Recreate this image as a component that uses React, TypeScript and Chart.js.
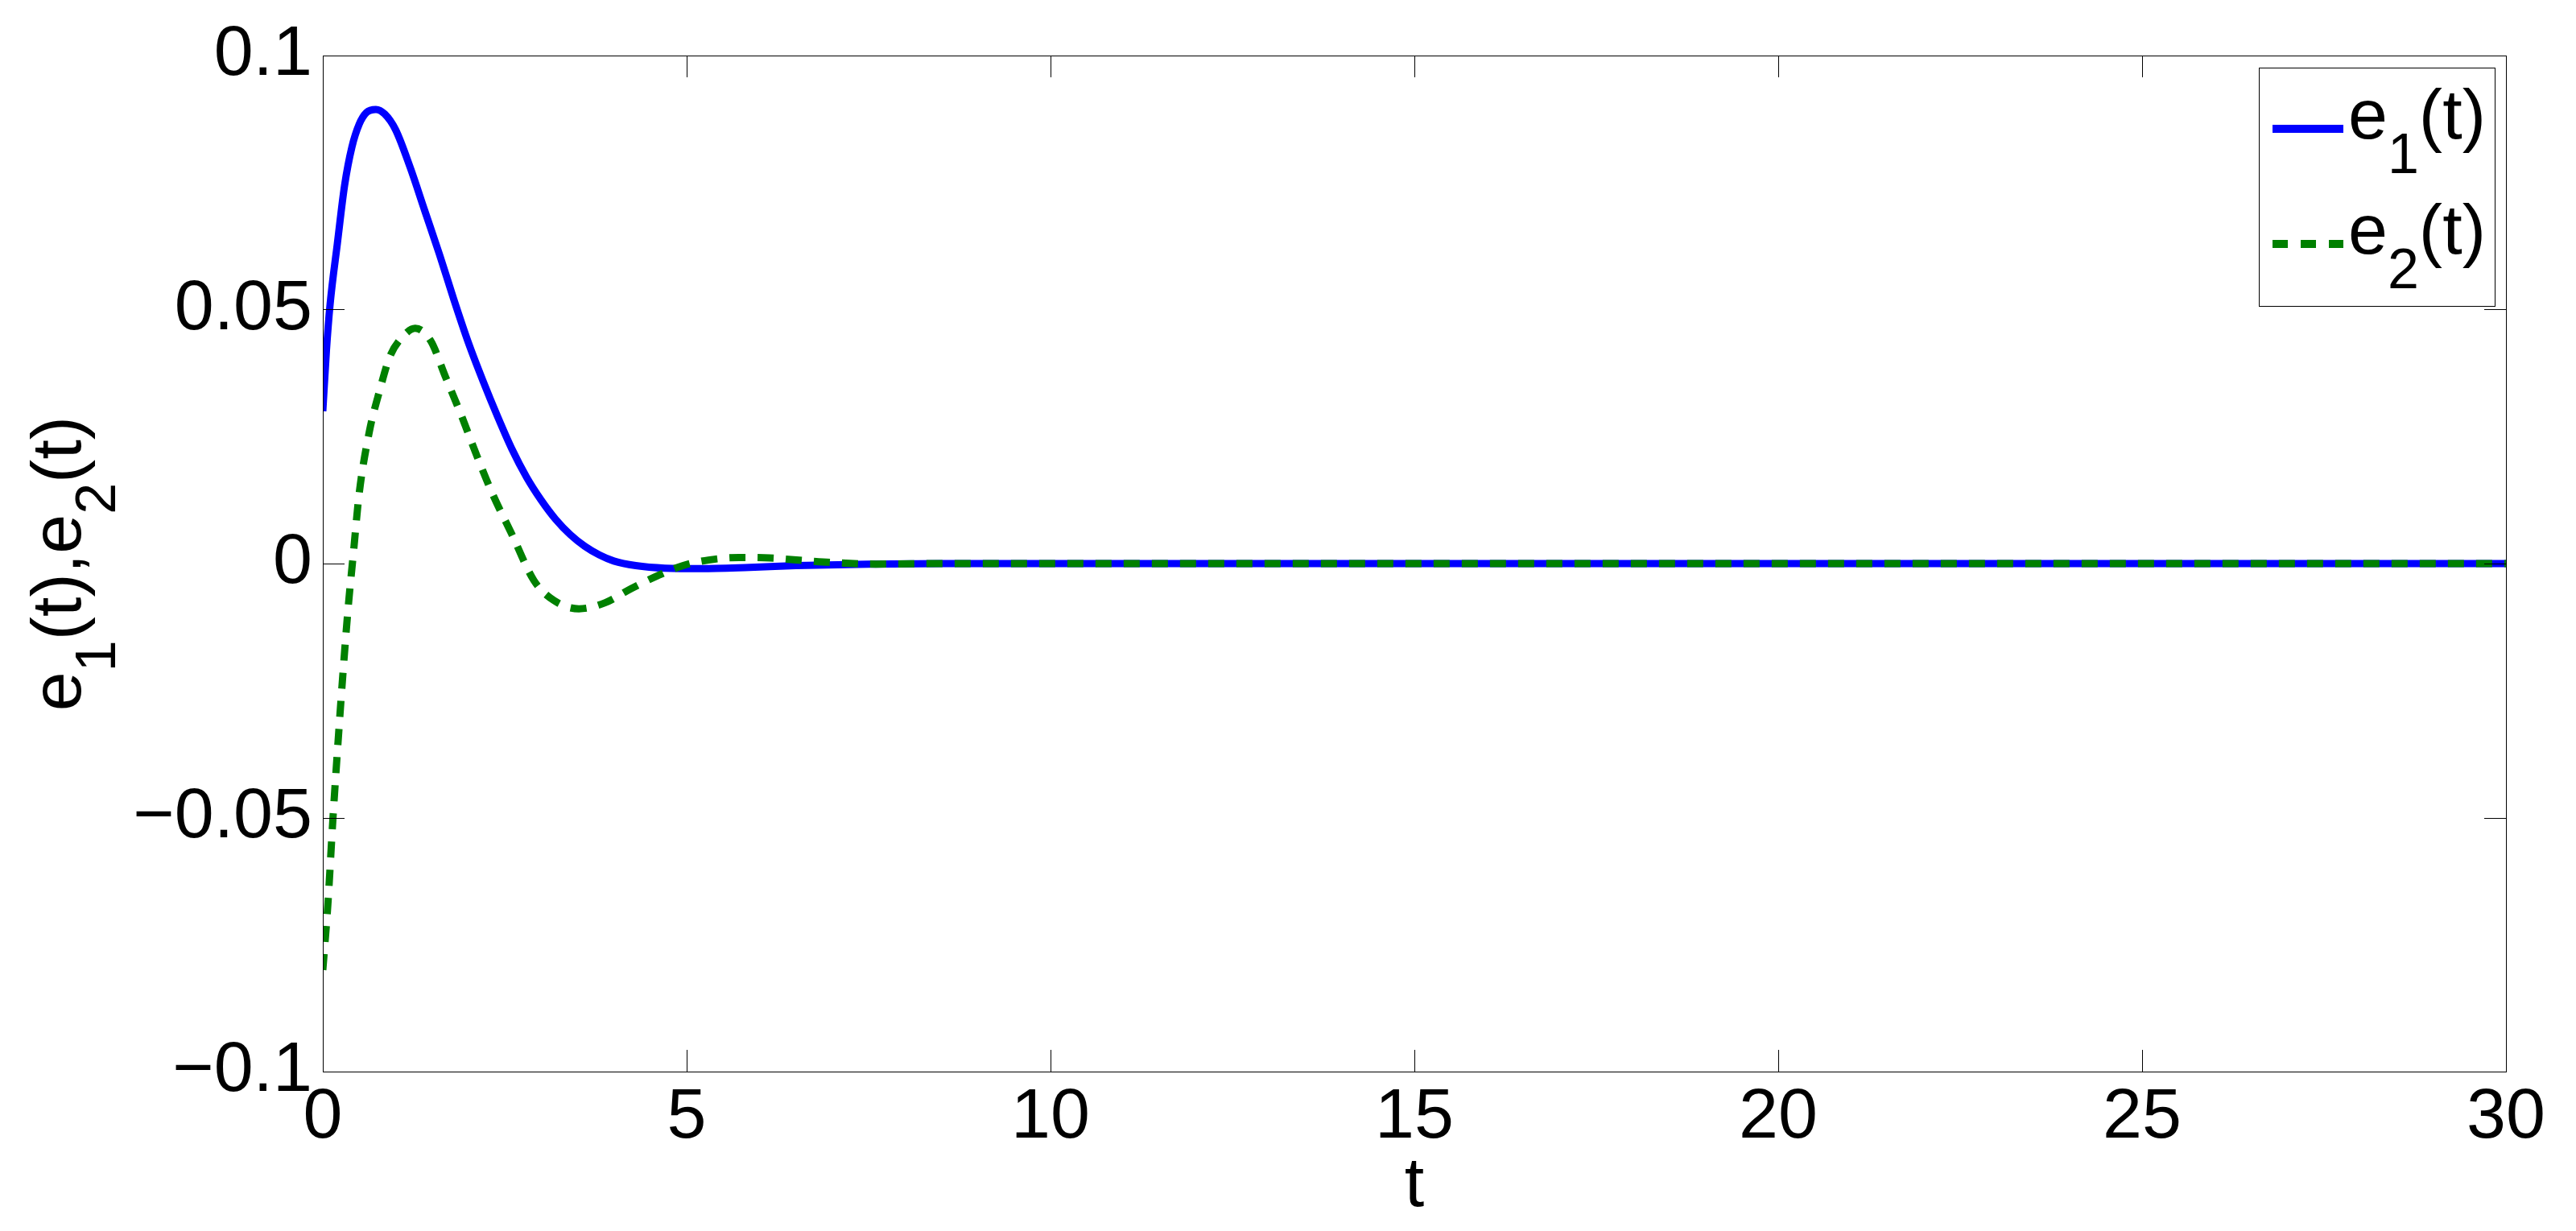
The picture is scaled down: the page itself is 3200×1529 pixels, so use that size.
import React, { useEffect, useRef } from "react";
import { Chart, registerables } from "chart.js";

Chart.register(...registerables);

// ---------- data ----------
const e1Time = [0, 0.05, 0.1, 0.2, 0.3, 0.4, 0.5, 0.6, 0.73, 0.85, 1.0, 1.2, 1.4, 1.6, 1.8, 2.0, 2.2, 2.4, 2.6, 2.8, 3.0, 3.2, 3.4, 3.6, 3.8, 4.0, 4.3, 4.7, 5.2, 5.8, 6.5, 7.5, 8.5, 10, 15, 20, 25, 30];
const e1Values = [0.030, 0.042, 0.051, 0.063, 0.0745, 0.082, 0.0865, 0.0888, 0.0894, 0.0885, 0.0854, 0.078, 0.0695, 0.061, 0.052, 0.0435, 0.036, 0.029, 0.0225, 0.017, 0.0125, 0.0087, 0.0057, 0.0034, 0.0017, 0.0005, -0.0004, -0.0009, -0.001, -0.0008, -0.0004, -0.0001, 0, 0, 0, 0, 0, 0];

const e2Time = [0, 0.07, 0.14, 0.21, 0.28, 0.35, 0.42, 0.5, 0.64, 0.78, 0.92, 1.1, 1.27, 1.48, 1.69, 1.9, 2.12, 2.33, 2.6, 2.9, 3.18, 3.52, 3.88, 4.24, 4.6, 4.95, 5.3, 5.72, 6.14, 6.6, 7.0, 7.6, 8.5, 10, 15, 20, 25, 30];
const e2Values = [-0.080, -0.067, -0.050, -0.035, -0.021, -0.0084, 0.002, 0.0138, 0.026, 0.034, 0.0407, 0.0447, 0.0463, 0.0439, 0.0366, 0.0293, 0.0211, 0.0138, 0.0057, -0.0033, -0.0073, -0.0089, -0.0077, -0.0049, -0.0024, -0.0004, 0.0007, 0.0012, 0.0011, 0.0006, 0.0002, -0.0001, 0, 0, 0, 0, 0, 0];

const seriesNames = ["e_1(t)", "e_2(t)"];
const seriesColors = ["#0000ff", "#008000"];

const xTickValues = [0, 5, 10, 15, 20, 25, 30];
const xTickLabels = ["0", "5", "10", "15", "20", "25", "30"];
const yTickValues = [-0.1, -0.05, 0, 0.05, 0.1];
const yTickLabels = ["\u22120.1", "\u22120.05", "0", "0.05", "0.1"];

const xTitle = "t";
const yTitle = "e_1(t),e_2(t)";

// ---------- helpers ----------
const FONT = "'Liberation Sans', Arial, Helvetica, sans-serif";
const MAIN_SIZE = 88;
const SUB_SIZE = 70;
const SUB_DROP = 43;

type Part = { text: string; sub: boolean };
function parseTex(s: string): Part[] {
  const parts: Part[] = [];
  let buf = "";
  for (let i = 0; i < s.length; i++) {
    if (s[i] === "_" && i + 1 < s.length) {
      if (buf) parts.push({ text: buf, sub: false });
      buf = "";
      parts.push({ text: s[i + 1], sub: true });
      i++;
    } else buf += s[i];
  }
  if (buf) parts.push({ text: buf, sub: false });
  return parts;
}
function measureTex(ctx: CanvasRenderingContext2D, parts: Part[]) {
  let w = 0;
  for (const p of parts) {
    ctx.font = `${p.sub ? SUB_SIZE : MAIN_SIZE}px ${FONT}`;
    w += ctx.measureText(p.text).width;
  }
  return w;
}
function drawTex(ctx: CanvasRenderingContext2D, parts: Part[], x: number, y: number) {
  let cx = x;
  ctx.textAlign = "left";
  ctx.textBaseline = "alphabetic";
  for (const p of parts) {
    ctx.font = `${p.sub ? SUB_SIZE : MAIN_SIZE}px ${FONT}`;
    ctx.fillText(p.text, cx, p.sub ? y + SUB_DROP : y);
    cx += ctx.measureText(p.text).width;
  }
}

const TICK_LEN = 27;

const matlabPlugin = {
  id: "matlabDecor",
  afterDraw(chart: any) {
    const { ctx, chartArea } = chart;
    const { left, right, top, bottom } = chartArea;
    const xs = chart.scales.x;
    const ys = chart.scales.y;
    ctx.save();
    ctx.strokeStyle = "#000";
    ctx.lineWidth = 1;
    ctx.setLineDash([]);
    ctx.strokeRect(left + 0.5, top + 0.5, right - left, bottom - top);
    ctx.beginPath();
    for (const v of xTickValues) {
      const px = Math.round(xs.getPixelForValue(v)) + 0.5;
      ctx.moveTo(px, bottom);
      ctx.lineTo(px, bottom - TICK_LEN);
      ctx.moveTo(px, top);
      ctx.lineTo(px, top + TICK_LEN);
    }
    for (const v of yTickValues) {
      const py = Math.round(ys.getPixelForValue(v)) + 0.5;
      ctx.moveTo(left, py);
      ctx.lineTo(left + TICK_LEN, py);
      ctx.moveTo(right, py);
      ctx.lineTo(right - TICK_LEN, py);
    }
    ctx.stroke();

    // legend
    const lx0 = right - 307;
    const lx1 = right - 14;
    const ly0 = top + 15;
    const ly1 = top + 311;
    ctx.fillStyle = "#fff";
    ctx.fillRect(lx0, ly0, lx1 - lx0, ly1 - ly0);
    ctx.strokeStyle = "#000";
    ctx.lineWidth = 1;
    ctx.strokeRect(lx0 + 0.5, ly0 + 0.5, lx1 - lx0, ly1 - ly0);
    const entryLine = [top + 91, top + 234];
    const entryBase = [top + 103, top + 246];
    seriesNames.forEach((name, i) => {
      ctx.strokeStyle = seriesColors[i];
      ctx.lineWidth = 10;
      ctx.lineCap = "butt";
      ctx.setLineDash(i === 1 ? [19, 16] : []);
      ctx.beginPath();
      ctx.moveTo(right - 290, entryLine[i]);
      ctx.lineTo(right - 202, entryLine[i]);
      ctx.stroke();
      ctx.setLineDash([]);
      ctx.fillStyle = "#000";
      drawTex(ctx, parseTex(name), right - 196, entryBase[i]);
    });

    // x title
    ctx.fillStyle = "#000";
    ctx.font = `${MAIN_SIZE}px ${FONT}`;
    ctx.textAlign = "center";
    ctx.textBaseline = "alphabetic";
    ctx.fillText(xTitle, (left + right) / 2, 1498);

    // y title (rotated)
    const yParts = parseTex(yTitle);
    const w = measureTex(ctx, yParts);
    ctx.save();
    ctx.translate(100, (top + bottom) / 2 + w / 2);
    ctx.rotate(-Math.PI / 2);
    drawTex(ctx, yParts, 0, 0);
    ctx.restore();

    ctx.restore();
  },
};

export default function App() {
  const canvasRef = useRef<HTMLCanvasElement | null>(null);

  useEffect(() => {
    document.body.style.margin = "0";
    const canvas = canvasRef.current;
    if (!canvas) return;
    const chart = new Chart(canvas, {
      type: "line",
      data: {
        datasets: [
          {
            label: seriesNames[0],
            data: e1Time.map((t, i) => ({ x: t, y: e1Values[i] })),
            borderColor: seriesColors[0],
            borderWidth: 9,
            pointRadius: 0,
            fill: false,
            cubicInterpolationMode: "monotone",
            borderCapStyle: "butt",
            borderJoinStyle: "round",
            order: 1,
          },
          {
            label: seriesNames[1],
            data: e2Time.map((t, i) => ({ x: t, y: e2Values[i] })),
            borderColor: seriesColors[1],
            borderWidth: 9,
            borderDash: [20, 15],
            pointRadius: 0,
            fill: false,
            cubicInterpolationMode: "monotone",
            borderCapStyle: "butt",
            order: 0,
          },
        ],
      },
      options: {
        animation: false,
        responsive: false,
        devicePixelRatio: 1,
        layout: { padding: { left: 0, top: 69, right: 87, bottom: 0 } },
        plugins: {
          legend: { display: false },
          tooltip: { enabled: false },
          title: { display: false },
        },
        scales: {
          x: {
            type: "linear",
            min: 0,
            max: 30,
            grid: { display: false, drawTicks: false },
            border: { display: false },
            afterBuildTicks: (scale: any) => {
              scale.ticks = xTickValues.map((v) => ({ value: v }));
            },
            afterFit: (scale: any) => {
              scale.height = 198;
            },
            ticks: {
              padding: 5,
              color: "#000",
              maxRotation: 0,
              autoSkip: false,
              font: { family: FONT, size: MAIN_SIZE },
              callback: (v: any) => {
                const i = xTickValues.indexOf(Number(v));
                return i >= 0 ? xTickLabels[i] : "";
              },
            },
          },
          y: {
            type: "linear",
            min: -0.1,
            max: 0.1,
            grid: { display: false, drawTicks: false },
            border: { display: false },
            afterBuildTicks: (scale: any) => {
              scale.ticks = yTickValues.map((v) => ({ value: v }));
            },
            afterFit: (scale: any) => {
              scale.width = 401;
            },
            ticks: {
              padding: 13,
              color: "#000",
              autoSkip: false,
              font: { family: FONT, size: MAIN_SIZE },
              callback: (v: any) => {
                const i = yTickValues.findIndex((t) => Math.abs(t - Number(v)) < 1e-9);
                return i >= 0 ? yTickLabels[i] : "";
              },
            },
          },
        },
      },
      plugins: [matlabPlugin],
    } as any);
    return () => chart.destroy();
  }, []);

  return (
    <div style={{ position: "absolute", left: 0, top: 0, width: 3200, height: 1529, background: "#fff" }}>
      <canvas ref={canvasRef} width={3200} height={1529} style={{ display: "block" }} />
    </div>
  );
}
